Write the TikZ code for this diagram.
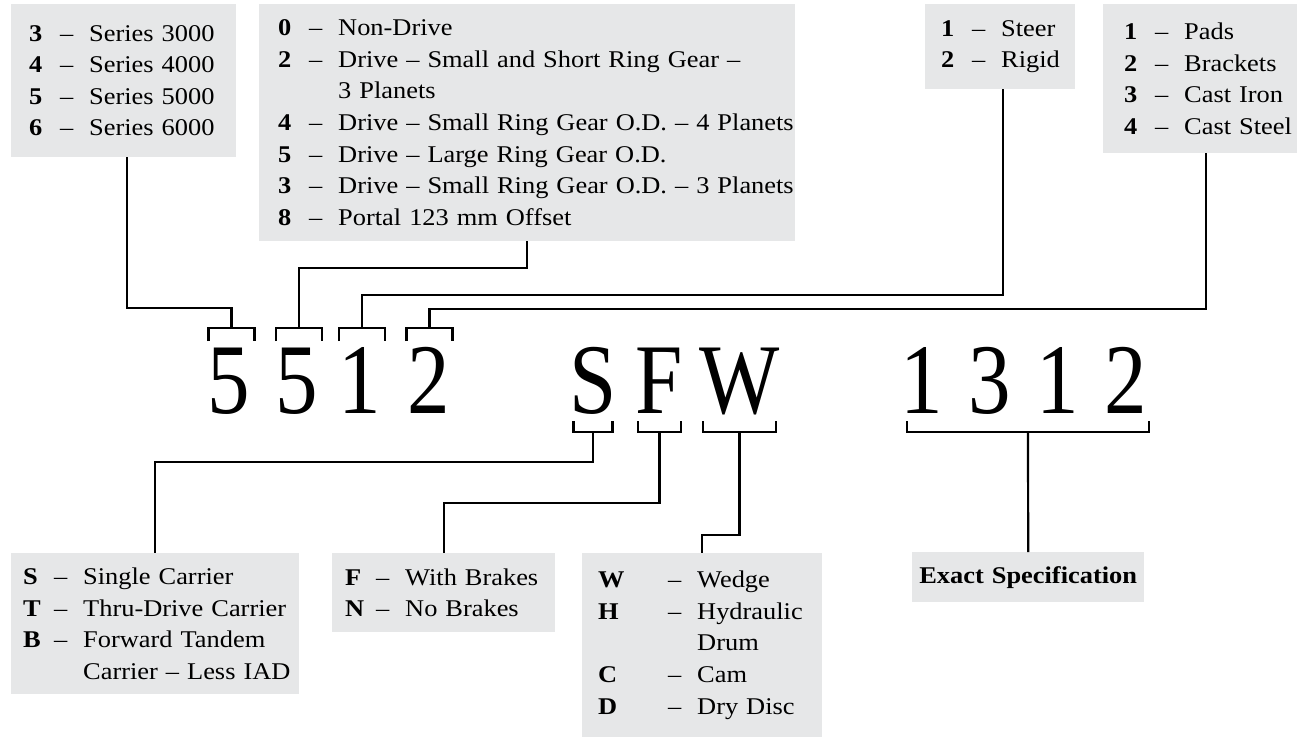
\documentclass[tikz,border=0pt]{standalone}
\usepackage{fontspec}
\setmainfont{Liberation Serif}[FakeStretch=1.1]
\newfontfamily\codefont{Liberation Serif}[FakeStretch=0.85]
\usetikzlibrary{calc, positioning}
\definecolor{boxgray}{RGB}{230, 231, 232}
\newcommand{\boxfont}{\fontsize{24}{31.6}\selectfont}
\newcommand{\optrow}[3][31pt]{\mbox{\makebox[#1][l]{\textbf{#2}}\makebox[29pt][l]{--}#3}}
\newcommand{\optcont}[2][60pt]{\mbox{\hspace*{#1}#2}}

\begin{document}
\begin{tikzpicture}[
  x=1pt, y=-1pt,
  optbox/.style={fill=boxgray, anchor=north west, align=left, inner ysep=0pt, font=\boxfont},
  codechar/.style={anchor=base, inner sep=0pt, font=\codefont\fontsize{100}{100}\selectfont},
  conn/.style={line width=2.2pt}
]
  \useasboundingbox (0,0) rectangle (1308,737);

  % Top row of option boxes
  \node[optbox, inner xsep=18pt, text width=189pt, minimum height=153pt] (series) at (11,4) {
    \optrow{3}{Series 3000}\\
    \optrow{4}{Series 4000}\\
    \optrow{5}{Series 5000}\\
    \optrow{6}{Series 6000}};
  \node[optbox, inner xsep=19pt, text width=498pt, minimum height=237pt] (drive) at (259,4) {
    \optrow{0}{Non-Drive}\\
    \optrow{2}{Drive -- Small and Short Ring Gear --}\\
    \optcont{3 Planets}\\
    \optrow{4}{Drive -- Small Ring Gear O.D. -- 4 Planets}\\
    \optrow{5}{Drive -- Large Ring Gear O.D.}\\
    \optrow{3}{Drive -- Small Ring Gear O.D. -- 3 Planets}\\
    \optrow{8}{Portal 123 mm Offset}};
  \node[optbox, inner xsep=16pt, text width=118pt, minimum height=85pt] (steer) at (925,4) {
    \optrow{1}{Steer}\\
    \optrow{2}{Rigid}};
  \node[optbox, inner xsep=21pt, text width=152pt, minimum height=149pt] (pads) at (1103,4) {
    \optrow{1}{Pads}\\
    \optrow{2}{Brackets}\\
    \optrow{3}{Cast Iron}\\
    \optrow{4}{Cast Steel}};

  % Model number
  \foreach \n/\c/\x in {a/5/229, b/5/297, c/1/360, d/2/429, s/S/593, f/F/659, w/W/740,
                        e/1/922, g/3/990, h/1/1058, i/2/1126}
    \node[codechar] (ch\n) at (\x,413) {\c};

  % Brackets above the digits
  \foreach \n/\x in {a/231.5, b/299, c/362, d/429.5} {
    \coordinate (top\n) at (\x,328);
    \draw[conn] ($(top\n)+(-23,13)$) -- ++(0,-13) -- ++(46,0) -- ++(0,13);
  }
  % Brackets below the letters
  \foreach \n/\x/\w in {s/593/39, f/659.5/43, w/739.5/73, spec/1028/242} {
    \coordinate (bot\n) at (\x,432);
    \draw[conn] ($(bot\n)+(-\w/2,-11)$) -- ++(0,11) -- ++(\w,0) -- ++(0,-11);
  }

  % Bottom row of option boxes
  \node[optbox, inner xsep=12pt, text width=264pt, minimum height=141pt] (carrier) at (11,553) {
    \optrow{S}{Single Carrier}\\
    \optrow{T}{Thru-Drive Carrier}\\
    \optrow{B}{Forward Tandem}\\
    \optcont{Carrier -- Less IAD}};
  \node[optbox, inner xsep=13pt, text width=197pt, minimum height=79pt] (brakes) at (332,553) {
    \optrow{F}{With Brakes}\\
    \optrow{N}{No Brakes}};
  \node[optbox, inner xsep=16pt, text width=208pt, minimum height=184pt] (wedge) at (582,553) {
    \optrow[70pt]{W}{Wedge}\\
    \optrow[70pt]{H}{Hydraulic}\\
    \optcont[99pt]{Drum}\\
    \optrow[70pt]{C}{Cam}\\
    \optrow[70pt]{D}{Dry Disc}};
  \node[optbox, align=center, inner xsep=0pt, text width=232pt, minimum height=50pt] (spec) at (912,552) {
    \textbf{Exact Specification}};

  % Connectors
  \draw[conn] ([xshift=3pt]series.south) |- ([yshift=20pt]topa) -- (topa);
  \draw[conn] (drive.south) |- ([yshift=60pt]topb) -- (topb);
  \draw[conn] ([xshift=3pt]steer.south) |- ([yshift=33pt]topc) -- (topc);
  \draw[conn] ([xshift=6pt]pads.south) |- ([yshift=19pt]topd) -- (topd);
  \draw[conn] (bots) -- ++(0,30) -| (carrier.north);
  \draw[conn] (botf) -- ++(0,71) -| (brakes.north);
  \draw[conn] (botw) -- ++(0,103) -| (wedge.north);
  \draw[conn] (botspec) -- (spec.north);
\end{tikzpicture}
\end{document}
